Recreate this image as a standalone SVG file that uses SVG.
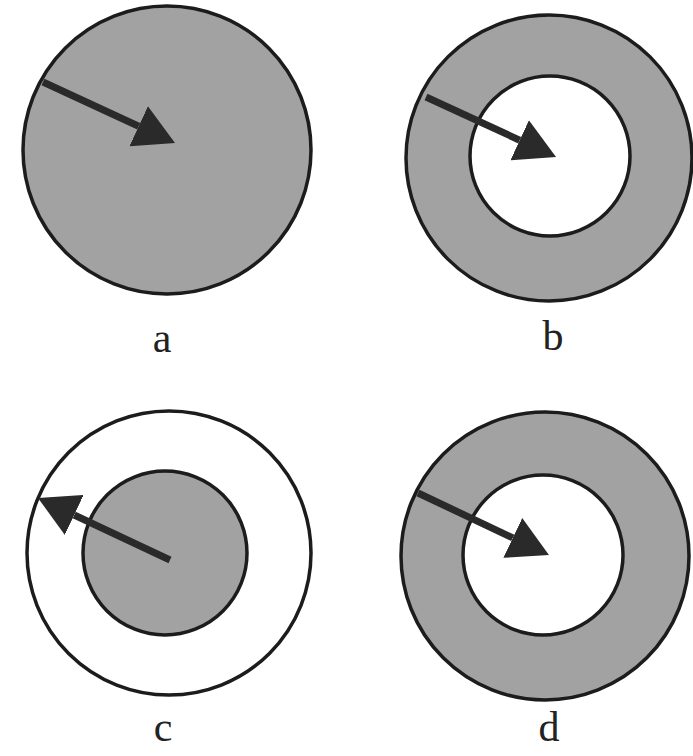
<svg xmlns="http://www.w3.org/2000/svg" width="693" height="756" viewBox="0 0 693 756">
<style>
.gray{fill:#a2a2a2;stroke:#1c1c1c;stroke-width:3.5}
.white{fill:#ffffff;stroke:#1c1c1c;stroke-width:3.5}
.shaft{stroke:#2a2a2a;stroke-width:7;fill:none;marker-end:url(#head)}
.lbl{font-family:"Liberation Serif","Times New Roman",serif;font-size:42px;fill:#222;text-anchor:middle}
</style>
<defs>
<marker id="head" viewBox="0 0 40 44" refX="0" refY="22" markerWidth="40" markerHeight="44" markerUnits="userSpaceOnUse" orient="auto">
<path d="M0,0 L40,22 L0,44 z" fill="#2a2a2a"/>
</marker>
</defs>
<rect width="693" height="756" fill="#ffffff"/>
<g id="a">
<circle class="gray" cx="167" cy="150" r="144"/>
<text class="lbl" x="162" y="352">a</text>
</g>
<g id="b">
<circle class="gray" cx="549" cy="158" r="143"/>
<circle class="white" cx="550" cy="156" r="80"/>
<text class="lbl" x="553" y="350">b</text>
</g>
<g id="c">
<circle class="white" cx="169" cy="553" r="142"/>
<circle class="gray" cx="165" cy="553" r="82"/>
<text class="lbl" x="163" y="741">c</text>
</g>
<g id="d">
<circle class="gray" cx="545" cy="556" r="144"/>
<circle class="white" cx="543" cy="555" r="80"/>
<text class="lbl" x="549" y="741">d</text>
</g>
<g id="connectors">
<line class="shaft" x1="43" y1="82" x2="138.7" y2="126.2"/>
<line class="shaft" x1="426" y1="97" x2="519.7" y2="140.2"/>
<line class="shaft" x1="170" y1="560" x2="74.2" y2="515"/>
<line class="shaft" x1="418" y1="493" x2="512.8" y2="537.9"/>
</g>
</svg>
